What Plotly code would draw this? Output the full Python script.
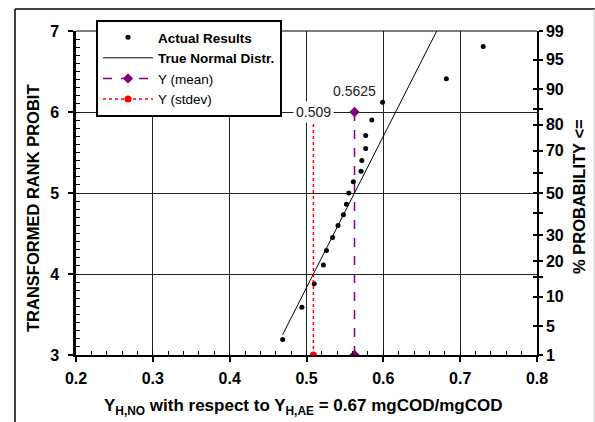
import numpy as np
import plotly.graph_objects as go

# ---- data ----
actual_x = [0.469, 0.494, 0.510, 0.522, 0.526, 0.534, 0.541, 0.548, 0.552, 0.555,
            0.561, 0.571, 0.572, 0.577, 0.577, 0.585, 0.599, 0.682, 0.730]
actual_y = [3.19, 3.59, 3.88, 4.11, 4.29, 4.45, 4.60, 4.73, 4.86, 5.00,
            5.14, 5.27, 5.40, 5.55, 5.71, 5.90, 6.12, 6.41, 6.81]
mean_val = 0.5625
stdev_pos = 0.509
sd = mean_val - stdev_pos
normal_probit = [3.25, 7.0]
marker_probit = [3.0, 6.0]
prob_tickvals = [3.0, 3.355, 3.718, 3.964, 4.158, 4.476, 4.747, 5.0, 5.253,
                 5.524, 5.842, 6.036, 6.282, 6.645, 7.0]
prob_ticktext = ["1", "5", "10", "", "20", "30", "", "50", "", "70", "80", "",
                 "90", "95", "99"]

W, H = 595, 422
L, R, T, B = 76, 58, 31, 67
PW, PH = W - L - R, H - T - B


def px(x):
    return (x - L) / PW


def py(y):
    return (H - B - y) / PH


FONT = "Liberation Sans, Arial, sans-serif"

normal_x = mean_val + (np.array(normal_probit) - 5.0) * sd

fig = go.Figure()
fig.add_trace(go.Scatter(x=actual_x, y=actual_y, mode="markers",
                         name="<b>Actual Results</b>",
                         marker=dict(color="black", size=5)))
fig.add_trace(go.Scatter(x=normal_x, y=normal_probit, mode="lines",
                         name="<b>True Normal Distr.</b>",
                         line=dict(color="black", width=1)))
fig.add_trace(go.Scatter(x=[mean_val, mean_val], y=marker_probit, mode="lines+markers",
                         name="Y (mean)",
                         line=dict(color="#800080", width=1.5, dash="dash"),
                         marker=dict(symbol="diamond", size=8, color="#800080")))
fig.add_trace(go.Scatter(x=[stdev_pos, stdev_pos], y=marker_probit, mode="lines+markers",
                         name="Y (stdev)",
                         line=dict(color="#ff0000", width=1.5, dash="dot"),
                         marker=dict(symbol="circle", size=7, color="#ff0000")))
# invisible traces to activate overlay axes (used for tick marks only)
for xa, ya in [("x", "y2"), ("x", "y3"), ("x", "y4"), ("x2", "y")]:
    fig.add_trace(go.Scatter(x=[0.2], y=[3], xaxis=xa, yaxis=ya, mode="markers",
                             marker=dict(opacity=0), showlegend=False, hoverinfo="skip"))

tickfont = dict(family=FONT, size=16, color="black", weight="bold")

fig.update_layout(
    width=W, height=H, autosize=False,
    margin=dict(l=L, r=R, t=T, b=B, pad=0),
    paper_bgcolor="white", plot_bgcolor="white",
    font=dict(family=FONT, color="black"),
    showlegend=True,
    legend=dict(x=px(96), y=py(20), xanchor="left", yanchor="top",
                bgcolor="white", bordercolor="black", borderwidth=2,
                font=dict(family=FONT, size=13.5, color="black"),
                itemwidth=50, tracegroupgap=0),
    xaxis=dict(range=[0.2, 0.8], dtick=0.1, tick0=0.2, tickformat=".1f",
               showgrid=True, gridcolor="#222", gridwidth=1,
               showline=True, linecolor="black", linewidth=2,
               ticks="outside", ticklen=5, tickcolor="black", tickwidth=1.5,
               ticklabelstandoff=3, tickfont=tickfont, zeroline=False),
    xaxis2=dict(range=[0.2, 0.8], overlaying="x", side="bottom", dtick=0.02, tick0=0.2,
                showline=False, showgrid=False, zeroline=False, showticklabels=False,
                ticks="inside", ticklen=4, tickcolor="black", tickwidth=1),
    yaxis=dict(range=[3, 7], dtick=1, showgrid=True, gridcolor="#222", gridwidth=1,
               showline=True, linecolor="black", linewidth=2.5,
               ticks="outside", ticklen=5, tickcolor="black", tickwidth=1.5,
               ticklabelstandoff=6, tickfont=tickfont, zeroline=False),
    yaxis4=dict(range=[3, 7], overlaying="y", side="left", dtick=0.1, tick0=3,
                showline=False, showgrid=False, zeroline=False, showticklabels=False,
                ticks="inside", ticklen=4, tickcolor="black", tickwidth=1),
    yaxis2=dict(range=[3, 7], overlaying="y", side="right", tickmode="array",
                tickvals=prob_tickvals, ticktext=prob_ticktext,
                showline=True, linecolor="black", linewidth=1.5,
                ticks="outside", ticklen=4, tickcolor="black", tickwidth=1.5,
                tickfont=tickfont, showgrid=False, zeroline=False),
    yaxis3=dict(range=[3, 7], overlaying="y", side="right", tickmode="array",
                tickvals=prob_tickvals, ticktext=[""] * len(prob_tickvals),
                showline=False, ticks="inside", ticklen=4, tickcolor="black",
                tickwidth=1.5, showticklabels=False, showgrid=False, zeroline=False),
)

# top frame and outer chart border
fig.add_shape(type="line", xref="paper", yref="paper", x0=0, x1=1, y0=1, y1=1,
              line=dict(color="black", width=1))
fig.add_shape(type="line", xref="paper", yref="paper", x0=px(15), x1=px(15),
              y0=py(9), y1=py(425), line=dict(color="black", width=1.5))
fig.add_shape(type="line", xref="paper", yref="paper", x0=px(15), x1=px(596),
              y0=py(9), y1=py(9), line=dict(color="black", width=1.5))
fig.add_shape(type="line", xref="paper", yref="paper", x0=px(594), x1=px(594),
              y0=py(9), y1=py(425), line=dict(color="#cccccc", width=1))

fig.add_annotation(x=mean_val, y=marker_probit[1], text="0.5625", showarrow=False,
                   xanchor="center", yanchor="middle",
                   yshift=21, font=dict(family=FONT, size=14, color="#222"))
fig.add_annotation(x=stdev_pos, y=marker_probit[1], text="0.509", showarrow=False,
                   xanchor="center", yanchor="middle",
                   bgcolor="white", borderpad=2,
                   font=dict(family=FONT, size=14, color="#222"))

# axis titles
fig.add_annotation(xref="paper", yref="paper", x=px(33), y=py(208),
                   xanchor="center", yanchor="middle",
                   text="<b>TRANSFORMED RANK PROBIT</b>", textangle=-90, showarrow=False,
                   font=dict(family=FONT, size=16.5, color="black"))
fig.add_annotation(xref="paper", yref="paper", x=px(579), y=py(197),
                   xanchor="center", yanchor="middle",
                   text="<b>% PROBABILITY &lt;=</b>", textangle=-90, showarrow=False,
                   font=dict(family=FONT, size=16.5, color="black"))
fig.add_annotation(xref="paper", yref="paper", x=px(303), y=py(407),
                   xanchor="center", yanchor="middle",
                   text="<b>Y<sub>H,NO</sub> with respect to Y<sub>H,AE</sub> = 0.67 mgCOD/mgCOD</b>",
                   showarrow=False, font=dict(family=FONT, size=17, color="black"))

fig.write_html("out.html")
